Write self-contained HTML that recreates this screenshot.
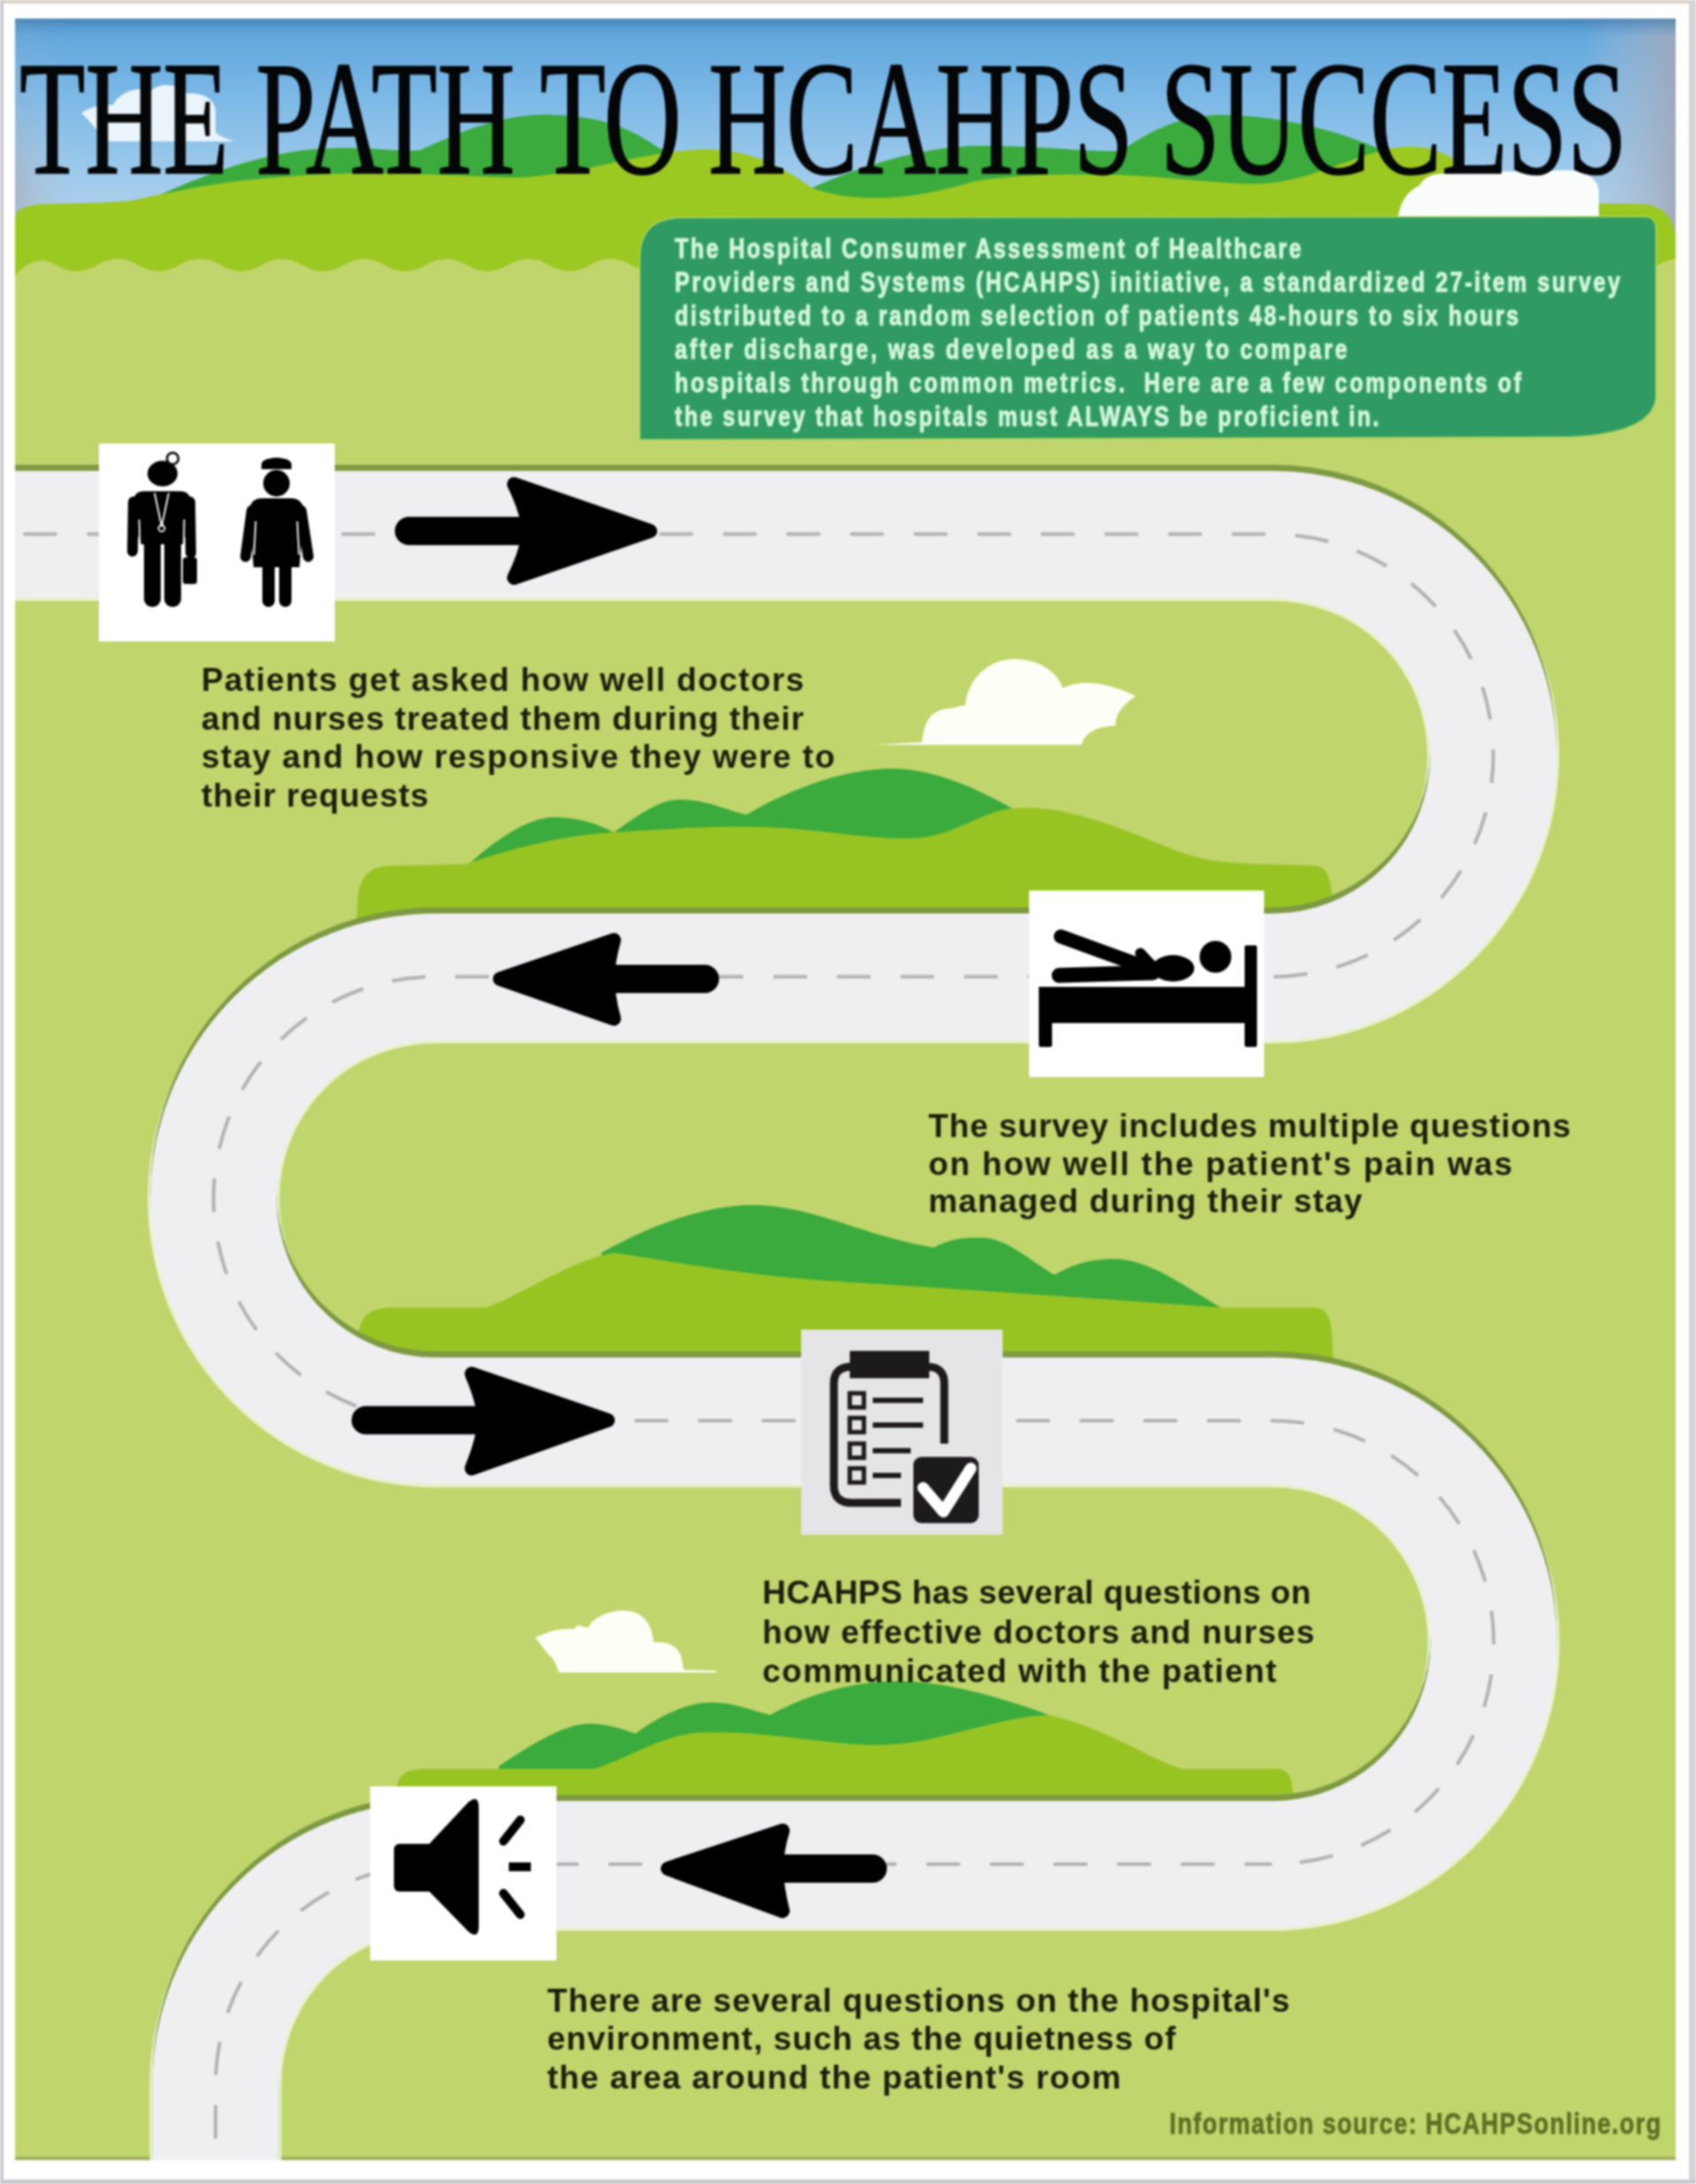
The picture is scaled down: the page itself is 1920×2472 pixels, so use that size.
<!DOCTYPE html>
<html><head><meta charset="utf-8"><style>
html,body{margin:0;padding:0;width:1920px;height:2472px;overflow:hidden;background:#fff}
body{position:relative}
</style></head><body>
<svg width="1920" height="2472" viewBox="0 0 1920 2472" style="position:absolute;left:0;top:0;filter:blur(1px)">
<defs>
<linearGradient id="sky" x1="0" y1="21" x2="0" y2="300" gradientUnits="userSpaceOnUse">
<stop offset="0" stop-color="#5aa2da"/><stop offset="0.3" stop-color="#7ab8e6"/><stop offset="0.65" stop-color="#a0cbec"/><stop offset="1" stop-color="#c0d6e8"/>
</linearGradient>
<linearGradient id="vig" x1="1790" y1="0" x2="1897" y2="0" gradientUnits="userSpaceOnUse">
<stop offset="0" stop-color="#b8c4d8" stop-opacity="0"/><stop offset="1" stop-color="#a0a8b8" stop-opacity="0.9"/>
</linearGradient>
<linearGradient id="vigl" x1="17" y1="0" x2="80" y2="0" gradientUnits="userSpaceOnUse">
<stop offset="0" stop-color="#a4b4c4" stop-opacity="0.85"/><stop offset="1" stop-color="#b8c4d8" stop-opacity="0"/>
</linearGradient>
<linearGradient id="viglm" x1="0" y1="21" x2="0" y2="300" gradientUnits="userSpaceOnUse">
<stop offset="0" stop-color="#fff" stop-opacity="0.1"/><stop offset="0.35" stop-color="#fff" stop-opacity="0.3"/><stop offset="0.7" stop-color="#fff" stop-opacity="1"/><stop offset="1" stop-color="#fff" stop-opacity="1"/>
</linearGradient>
<mask id="mvl"><rect x="17" y="21" width="100" height="300" fill="url(#viglm)"/></mask>
<linearGradient id="topd" x1="0" y1="21" x2="0" y2="42" gradientUnits="userSpaceOnUse">
<stop offset="0" stop-color="#3f78a8" stop-opacity="0.7"/><stop offset="1" stop-color="#4f90c8" stop-opacity="0"/>
</linearGradient>
<clipPath id="main"><rect x="17" y="21" width="1880" height="2424"/></clipPath>
</defs>
<rect x="0" y="0" width="1920" height="2472" fill="#ffffff"/>
<rect x="0" y="0" width="1920" height="4" fill="#d8d2c8"/>
<rect x="0" y="0" width="4" height="2472" fill="#c9c9d1"/>
<rect x="1912" y="0" width="8" height="2472" fill="#d4d4d8"/>
<rect x="0" y="2467" width="1920" height="5" fill="#c8c8cc"/>
<g clip-path="url(#main)">
<rect x="17" y="21" width="1880" height="2424" fill="#c1d56d"/>
<rect x="17" y="2441" width="1880" height="4" fill="#97a85a" opacity="0.8"/>
<rect x="17" y="21" width="1880" height="300" fill="url(#sky)"/>
<rect x="17" y="21" width="1880" height="300" fill="url(#vig)"/>
<rect x="17" y="21" width="1880" height="21" fill="url(#topd)"/>
<rect x="17" y="21" width="1880" height="300" fill="url(#vigl)" mask="url(#mvl)"/>
<path d="M 92 128 C 100 122 115 118 128 119 C 135 104 155 98 172 102 C 182 92 205 96 212 106 C 228 104 244 112 244 126 L 244 150 C 250 155 258 158 265 160 L 120 160 C 112 150 100 135 92 128 Z" fill="#f4f8fc" opacity="0.92"/>
<path d="M 140 240 C 220 200 300 170 371 168 C 420 166 450 172 475 170 C 520 150 570 128 625 130 C 690 132 720 150 745 167 C 800 190 880 205 914 215 C 980 185 1050 165 1110 165 C 1180 165 1230 172 1269 171 C 1300 150 1330 132 1380 130 C 1450 130 1520 150 1560 168 L 1600 200 L 1600 260 L 140 260 Z" fill="#3aab3c"/>
<path d="M 17 248 C 17 236 30 232 50 231 C 100 230 130 229 150 227 C 200 216 250 206 289 203 C 340 198 380 196 413 196 C 480 196 540 200 578 201 C 650 201 720 172 796 169 C 860 168 900 200 922 214 C 980 232 1040 224 1104 205 C 1170 195 1230 198 1269 198 C 1320 200 1380 208 1421 208 C 1460 207 1480 198 1500 192 C 1530 182 1560 168 1590 166 C 1610 165 1630 170 1645 180 L 1660 215 C 1700 225 1740 230 1790 230 L 1860 231 C 1885 233 1897 250 1897 270 L 1897 320 L 17 320 Z" fill="#9cc822"/>
<path d="M 17 312 Q 40.2 286 63.5 300 Q 86.8 314 110.0 300 Q 133.2 286 156.5 300 Q 179.8 314 203.0 300 Q 226.2 286 249.5 300 Q 272.8 314 296.0 300 Q 319.2 286 342.5 300 Q 365.8 314 389.0 300 Q 412.2 286 435.5 300 Q 458.8 314 482.0 300 Q 505.2 286 528.5 300 Q 551.8 314 575.0 300 Q 598.2 286 621.5 300 Q 644.8 314 668.0 300 Q 691.2 286 714.5 300 Q 737.8 314 761.0 300 Q 784.2 286 807.5 300 Q 830.8 314 854.0 300 Q 877.2 286 900.5 300 Q 923.8 314 947.0 300 Q 970.2 286 993.5 300 Q 1016.8 314 1040.0 300 Q 1063.2 286 1086.5 300 Q 1109.8 314 1133.0 300 Q 1156.2 286 1179.5 300 Q 1202.8 314 1226.0 300 Q 1249.2 286 1272.5 300 Q 1295.8 314 1319.0 300 Q 1342.2 286 1365.5 300 Q 1388.8 314 1412.0 300 Q 1435.2 286 1458.5 300 Q 1481.8 314 1505.0 300 Q 1528.2 286 1551.5 300 Q 1574.8 314 1598.0 300 Q 1621.2 286 1644.5 300 Q 1667.8 314 1691.0 300 Q 1714.2 286 1737.5 300 Q 1760.8 314 1784.0 300 Q 1807.2 286 1830.5 300 Q 1853.8 314 1877.0 300 Q 1900.2 286 1923.5 300 Q 1946.8 314 1970.0 300 L 1897 312 L 1897 340 L 17 340 Z" fill="#c1d56d"/>
<path d="M 1583 245 C 1585 228 1595 215 1607 210 C 1612 200 1625 195 1640 197 C 1680 192 1720 196 1760 193 C 1790 190 1808 200 1810 215 L 1810 245 Z" fill="#fbfdfc"/>
<path d="M 725 497 L 725 292 Q 725 247 772 247 L 1862 246 Q 1874 246 1874 260 L 1874 450 Q 1870 490 1777 494 Z" fill="#2f9a62" stroke="#a6d65e" stroke-width="3" paint-order="stroke"/>
<path d="M 989 843 L 1044 840 C 1046 815 1055 803 1075 802 L 1093 798 C 1095 770 1118 746 1148 746 C 1178 746 1198 762 1203 779 C 1218 771 1245 768 1286 788 C 1270 798 1262 810 1263 821 C 1245 823 1230 826 1224 843 Z" fill="#fdfff6"/>
<path d="M 633 1893 C 628 1880 625 1875 622 1874 C 615 1865 610 1858 606 1854 C 620 1846 635 1843 650 1844 C 655 1835 660 1843 666 1842 C 672 1830 690 1823 706 1823 C 725 1823 738 1835 740 1859 C 755 1858 770 1862 772 1880 L 774 1890 L 811 1891 L 811 1893 Z" fill="#fdfff6"/>
<path d="M 527 982 C 560 950 600 925 626 925 C 660 925 680 935 695 942 C 720 925 745 905 770 905 C 800 905 825 918 845 922 C 900 890 960 870 1009 870 C 1060 870 1110 895 1146 915 L 1146 990 L 527 990 Z" fill="#3aab3c"/>
<path d="M 404 1040 C 404 1000 410 982 440 980 L 527 978 C 580 960 640 945 695 942 C 760 938 800 935 859 936 C 930 938 980 950 1030 949 C 1080 948 1110 918 1146 915 C 1170 913 1185 915 1201 918 C 1280 935 1320 965 1372 974 C 1420 980 1470 978 1490 980 C 1505 982 1509 1000 1509 1040 Z" fill="#98c423"/>
<path d="M 681 1418 C 740 1385 800 1364 852 1364 C 920 1364 980 1400 1057 1412 C 1080 1400 1095 1401 1112 1401 C 1140 1401 1170 1430 1194 1443 C 1220 1428 1240 1425 1262 1425 C 1300 1425 1340 1455 1382 1480 L 681 1480 Z" fill="#3aab3c"/>
<path d="M 404 1540 C 404 1495 410 1482 440 1480 L 551 1480 C 600 1460 650 1425 696 1418 C 760 1428 850 1444 927 1449 C 1100 1460 1300 1474 1382 1480 L 1490 1480 C 1505 1482 1509 1495 1509 1540 Z" fill="#98c423"/>
<path d="M 565 1999 C 600 1975 640 1951 667 1951 C 690 1951 705 1958 720 1962 C 750 1940 780 1927 804 1927 C 835 1927 855 1938 872 1941 C 920 1915 970 1903 1016 1903 C 1070 1903 1130 1920 1187 1941 L 1187 2005 L 565 2005 Z" fill="#3aab3c"/>
<path d="M 448 2040 C 448 2010 455 2003 480 2002 L 674 2002 C 720 1985 750 1965 790 1961 C 870 1958 930 1975 996 1975 C 1060 1975 1120 1945 1187 1941 C 1250 1955 1300 1990 1338 2002 L 1445 2002 C 1460 2003 1464 2012 1464 2040 Z" fill="#98c423"/>
<path d="M 10 604.5 H 1440 A 250.5 250.5 0 0 1 1440 1105.5 H 493 A 251.25 251.25 0 0 0 493 1608 H 1440 A 251 251 0 0 1 1440 2110 H 494 A 250 250 0 0 0 244 2360 V 2460" fill="none" stroke="#ebf2d2" stroke-width="149"/>
<path d="M 10 604.5 H 1440 A 250.5 250.5 0 0 1 1440 1105.5 H 493 A 251.25 251.25 0 0 0 493 1608 H 1440 A 251 251 0 0 1 1440 2110 H 494 A 250 250 0 0 0 244 2360 V 2460" fill="none" stroke="#e9f1cf" stroke-width="143" transform="translate(0,4)"/>
<path d="M 10 604.5 H 1440 A 250.5 250.5 0 0 1 1440 1105.5 H 493 A 251.25 251.25 0 0 0 493 1608 H 1440 A 251 251 0 0 1 1440 2110 H 494 A 250 250 0 0 0 244 2360 V 2460" fill="none" stroke="#7e9a42" stroke-width="143" transform="translate(0,-7)"/>
<path d="M 10 604.5 H 1440 A 250.5 250.5 0 0 1 1440 1105.5 H 493 A 251.25 251.25 0 0 0 493 1608 H 1440 A 251 251 0 0 1 1440 2110 H 494 A 250 250 0 0 0 244 2360 V 2460" fill="none" stroke="#efeff1" stroke-width="143"/>
<path d="M 10 604.5 H 1440" fill="none" stroke="#b2b2b4" stroke-width="4" stroke-dasharray="38 34" stroke-dashoffset="55.5"/>
<path d="M 1440 604.5 A 250.5 250.5 0 0 1 1440 1105.5" fill="none" stroke="#b2b2b4" stroke-width="4" stroke-dasharray="38 34" stroke-dashoffset="45.5"/>
<path d="M 1440 1105.5 H 493" fill="none" stroke="#b2b2b4" stroke-width="4" stroke-dasharray="38 34" stroke-dashoffset="49.5"/>
<path d="M 493 1105.5 A 251.25 251.25 0 0 0 493 1608" fill="none" stroke="#b2b2b4" stroke-width="4" stroke-dasharray="38 34" stroke-dashoffset="60.5"/>
<path d="M 493 1608 H 1440" fill="none" stroke="#b2b2b4" stroke-width="4" stroke-dasharray="38 34" stroke-dashoffset="62.5"/>
<path d="M 1440 1608 A 251 251 0 0 1 1440 2110" fill="none" stroke="#b2b2b4" stroke-width="4" stroke-dasharray="38 34" stroke-dashoffset="1.5"/>
<path d="M 1440 2110 H 494" fill="none" stroke="#b2b2b4" stroke-width="4" stroke-dasharray="38 34" stroke-dashoffset="6.8"/>
<path d="M 494 2110 A 250 250 0 0 0 244 2360 V 2460" fill="none" stroke="#b2b2b4" stroke-width="4" stroke-dasharray="38 34" stroke-dashoffset="16.8"/>
<g fill="#000" stroke="#000" stroke-linejoin="round" stroke-linecap="round"><line x1="463" y1="601" x2="608" y2="601" stroke-width="32"/><path d="M 736 601 L 582 548 Q 598 581 598 601 Q 598 621 582 654 Z" stroke-width="16"/></g>
<g fill="#000" stroke="#000" stroke-linejoin="round" stroke-linecap="round"><line x1="798" y1="1108" x2="678" y2="1108" stroke-width="32"/><path d="M 566 1108 L 695 1064 Q 688 1088 688 1108 Q 688 1128 695 1153 Z" stroke-width="16"/></g>
<g fill="#000" stroke="#000" stroke-linejoin="round" stroke-linecap="round"><line x1="414" y1="1607.5" x2="558" y2="1607.5" stroke-width="32"/><path d="M 688 1607.5 L 534 1555 Q 548 1587.5 548 1607.5 Q 548 1627.5 534 1662 Z" stroke-width="16"/></g>
<g fill="#000" stroke="#000" stroke-linejoin="round" stroke-linecap="round"><line x1="988" y1="2115" x2="869" y2="2115" stroke-width="32"/><path d="M 756 2115 L 886 2072 Q 879 2095 879 2115 Q 879 2135 886 2163 Z" stroke-width="16"/></g>
<rect x="112" y="502" width="267" height="224" fill="#ffffff"/>
<rect x="1165" y="1008" width="266" height="211" fill="#ffffff"/>
<rect x="907" y="1505" width="228" height="232" fill="#e5e5e8"/>
<rect x="419" y="2022" width="211" height="197" fill="#ffffff"/>
<g fill="#000"><ellipse cx="184" cy="536" rx="17" ry="14.5"/><circle cx="195.5" cy="519" r="6.5" fill="#fff" stroke="#000" stroke-width="2.5"/><path d="M 162 556 L 205 556 Q 214 556 216 566 L 218 580 L 207 616 L 159 616 L 149 580 L 151 566 Q 153 556 162 556 Z"/><line x1="151" y1="568" x2="150" y2="624" stroke="#000" stroke-width="12" stroke-linecap="round"/><line x1="215" y1="568" x2="216" y2="626" stroke="#000" stroke-width="12" stroke-linecap="round"/><line x1="157.5" y1="588" x2="158.5" y2="616" stroke="#fff" stroke-width="1.8"/><line x1="208.5" y1="588" x2="208" y2="620" stroke="#fff" stroke-width="1.8"/><rect x="163" y="605" width="19" height="82" rx="9"/><rect x="186" y="605" width="19" height="82" rx="9"/><rect x="207" y="631" width="16" height="30" rx="3"/><path d="M 175 558 L 183 596 L 191 558" fill="none" stroke="#fff" stroke-width="1.8"/><circle cx="183" cy="598" r="3.5" fill="none" stroke="#fff" stroke-width="1.8"/></g>
<g fill="#000"><path d="M 296 531 L 330 531 L 330 526 Q 330 519 313 518 Q 296 519 296 526 Z"/><circle cx="313" cy="547" r="15"/><path d="M 296 564 L 330 564 Q 341 564 344 576 L 339 642 L 287 642 L 282 576 Q 285 564 296 564 Z"/><line x1="285" y1="578" x2="278" y2="630" stroke="#000" stroke-width="12" stroke-linecap="round"/><line x1="341" y1="578" x2="349" y2="630" stroke="#000" stroke-width="12" stroke-linecap="round"/><line x1="289.5" y1="590" x2="287.5" y2="628" stroke="#fff" stroke-width="1.8"/><line x1="336.5" y1="590" x2="338.5" y2="628" stroke="#fff" stroke-width="1.8"/><rect x="297" y="630" width="14" height="57" rx="7"/><rect x="316" y="630" width="14" height="57" rx="7"/></g>
<g fill="#000"><rect x="1176" y="1117" width="234" height="41"/><rect x="1176" y="1117" width="15" height="68" rx="2"/><rect x="1409" y="1070" width="14" height="115" rx="2"/><circle cx="1376" cy="1083" r="18"/><ellipse cx="1328" cy="1096" rx="24" ry="15"/><line x1="1199" y1="1104" x2="1305" y2="1101" stroke="#000" stroke-width="17" stroke-linecap="round"/><line x1="1201" y1="1060" x2="1300" y2="1096" stroke="#000" stroke-width="16" stroke-linecap="round"/><line x1="1291" y1="1079" x2="1306" y2="1095" stroke="#000" stroke-width="12" stroke-linecap="round"/></g>
<g fill="none" stroke="#1c1a1c"><path d="M 1020 1701 L 964 1701 Q 944 1701 944 1681 L 944 1566 Q 944 1547 964 1547 L 1050 1547 Q 1069 1547 1069 1566 L 1069 1634" stroke-width="9"/><rect x="962" y="1529" width="90" height="31" fill="#1c1a1c" stroke="none"/><rect x="962" y="1577" width="16" height="16" stroke-width="5"/><rect x="962" y="1605" width="16" height="16" stroke-width="5"/><rect x="962" y="1634" width="16" height="16" stroke-width="5"/><rect x="962" y="1662" width="16" height="16" stroke-width="5"/><line x1="988" y1="1585" x2="1045" y2="1585" stroke-width="6"/><line x1="988" y1="1613" x2="1045" y2="1613" stroke-width="6"/><line x1="988" y1="1642" x2="1031" y2="1642" stroke-width="6"/><line x1="988" y1="1670" x2="1020" y2="1670" stroke-width="6"/><rect x="1034" y="1649" width="74" height="75" rx="9" fill="#1c1a1c" stroke="none"/><path d="M 1045 1684 L 1068 1711 L 1099 1662" stroke="#fff" stroke-width="13" stroke-linecap="round" stroke-linejoin="round"/></g>
<g fill="#000"><rect x="446" y="2087" width="46" height="54" rx="6"/><path d="M 486 2087 L 530 2040 Q 542 2030 542 2046 L 542 2180 Q 542 2196 530 2186 L 486 2141 Z"/><g stroke="#000" stroke-width="10" stroke-linecap="round"><line x1="570" y1="2084" x2="589" y2="2060"/><line x1="576" y1="2113" x2="601" y2="2113" stroke-linecap="butt"/><line x1="570" y1="2143" x2="589" y2="2167"/></g></g>
<g transform="translate(764,292) scale(0.8,1)"><text x="0" y="0" font-family="Liberation Sans, sans-serif" font-weight="bold" font-size="31" fill="#d2f5dc" textLength="886.25" lengthAdjust="spacing" xml:space="preserve" stroke="#d2f5dc" stroke-width="1.1">The Hospital Consumer Assessment of Healthcare</text></g>
<g transform="translate(764,330) scale(0.8,1)"><text x="0" y="0" font-family="Liberation Sans, sans-serif" font-weight="bold" font-size="31" fill="#d2f5dc" textLength="1337.5" lengthAdjust="spacing" xml:space="preserve" stroke="#d2f5dc" stroke-width="1.1">Providers and Systems (HCAHPS) initiative, a standardized 27-item survey</text></g>
<g transform="translate(764,368) scale(0.8,1)"><text x="0" y="0" font-family="Liberation Sans, sans-serif" font-weight="bold" font-size="31" fill="#d2f5dc" textLength="1193.75" lengthAdjust="spacing" xml:space="preserve" stroke="#d2f5dc" stroke-width="1.1">distributed to a random selection of patients 48-hours to six hours</text></g>
<g transform="translate(764,406) scale(0.8,1)"><text x="0" y="0" font-family="Liberation Sans, sans-serif" font-weight="bold" font-size="31" fill="#d2f5dc" textLength="951.25" lengthAdjust="spacing" xml:space="preserve" stroke="#d2f5dc" stroke-width="1.1">after discharge, was developed as a way to compare</text></g>
<g transform="translate(764,444) scale(0.8,1)"><text x="0" y="0" font-family="Liberation Sans, sans-serif" font-weight="bold" font-size="31" fill="#d2f5dc" textLength="1197.5" lengthAdjust="spacing" xml:space="preserve" stroke="#d2f5dc" stroke-width="1.1">hospitals through common metrics.  Here are a few components of</text></g>
<g transform="translate(764,482) scale(0.8,1)"><text x="0" y="0" font-family="Liberation Sans, sans-serif" font-weight="bold" font-size="31" fill="#d2f5dc" textLength="996.25" lengthAdjust="spacing" xml:space="preserve" stroke="#d2f5dc" stroke-width="1.1">the survey that hospitals must ALWAYS be proficient in.</text></g>
<text x="228" y="782" font-family="Liberation Sans, sans-serif" font-weight="bold" font-size="37" fill="#1a1f0e" textLength="682" lengthAdjust="spacing" >Patients get asked how well doctors</text>
<text x="228" y="825.5" font-family="Liberation Sans, sans-serif" font-weight="bold" font-size="37" fill="#1a1f0e" textLength="682" lengthAdjust="spacing" >and nurses treated them during their</text>
<text x="228" y="869" font-family="Liberation Sans, sans-serif" font-weight="bold" font-size="37" fill="#1a1f0e" textLength="717" lengthAdjust="spacing" >stay and how responsive they were to</text>
<text x="228" y="912.5" font-family="Liberation Sans, sans-serif" font-weight="bold" font-size="37" fill="#1a1f0e" textLength="257" lengthAdjust="spacing" >their requests</text>
<text x="1051" y="1287" font-family="Liberation Sans, sans-serif" font-weight="bold" font-size="37" fill="#1a1f0e" textLength="727" lengthAdjust="spacing" >The survey includes multiple questions</text>
<text x="1051" y="1330" font-family="Liberation Sans, sans-serif" font-weight="bold" font-size="37" fill="#1a1f0e" textLength="661" lengthAdjust="spacing" >on how well the patient&#39;s pain was</text>
<text x="1051" y="1372" font-family="Liberation Sans, sans-serif" font-weight="bold" font-size="37" fill="#1a1f0e" textLength="491" lengthAdjust="spacing" >managed during their stay</text>
<text x="863" y="1815" font-family="Liberation Sans, sans-serif" font-weight="bold" font-size="37" fill="#1a1f0e" textLength="621" lengthAdjust="spacing" >HCAHPS has several questions on</text>
<text x="863" y="1860" font-family="Liberation Sans, sans-serif" font-weight="bold" font-size="37" fill="#1a1f0e" textLength="625" lengthAdjust="spacing" >how effective doctors and nurses</text>
<text x="863" y="1904" font-family="Liberation Sans, sans-serif" font-weight="bold" font-size="37" fill="#1a1f0e" textLength="582" lengthAdjust="spacing" >communicated with the patient</text>
<text x="619.5" y="2277" font-family="Liberation Sans, sans-serif" font-weight="bold" font-size="37" fill="#1a1f0e" textLength="840.5" lengthAdjust="spacing" >There are several questions on the hospital&#39;s</text>
<text x="619.5" y="2320" font-family="Liberation Sans, sans-serif" font-weight="bold" font-size="37" fill="#1a1f0e" textLength="711.5" lengthAdjust="spacing" >environment, such as the quietness of</text>
<text x="619.5" y="2364" font-family="Liberation Sans, sans-serif" font-weight="bold" font-size="37" fill="#1a1f0e" textLength="649.5" lengthAdjust="spacing" >the area around the patient&#39;s room</text>
<g transform="translate(1324,2415) scale(0.8,1)"><text x="0" y="0" font-family="Liberation Sans, sans-serif" font-weight="bold" font-size="34" fill="#5f7026" textLength="695.0" lengthAdjust="spacing" stroke="#5f7026" stroke-width="0.8">Information source: HCAHPSonline.org</text></g>
<text x="22" y="196" font-family="Liberation Serif, serif" font-size="185" fill="#050608" stroke="#050608" stroke-width="1.6" textLength="1820" lengthAdjust="spacingAndGlyphs">THE PATH TO HCAHPS SUCCESS</text>
</g>
</svg>
</body></html>
